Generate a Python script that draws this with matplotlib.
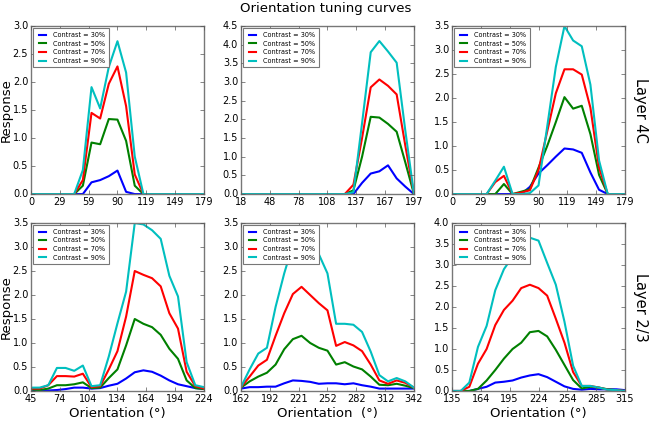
import matplotlib
matplotlib.use('Agg')
import matplotlib.pyplot as plt
import numpy as np

plt.style.use('classic')

contrast_labels = ['Contrast = 30%', 'Contrast = 50%', 'Contrast = 70%', 'Contrast = 90%']
line_colors = ['b', 'g', 'r', 'c']
n_pts = 21

# ---- Layer 4C ----
l4c_a_range = (0, 179)
l4c_a_ticks = ['0', '29', '59', '90', '119', '149', '179']
l4c_a_ymax = 3.0
l4c_a_c30 = [0, 0, 0, 0, 0, 0, 0, 0.21, 0.25, 0.32, 0.42, 0.04, 0, 0, 0, 0, 0, 0, 0, 0, 0]
l4c_a_c50 = [0, 0, 0, 0, 0, 0, 0.15, 0.92, 0.89, 1.34, 1.33, 0.95, 0.15, 0, 0, 0, 0, 0, 0, 0, 0]
l4c_a_c70 = [0, 0, 0, 0, 0, 0, 0.25, 1.45, 1.35, 1.97, 2.28, 1.57, 0.35, 0, 0, 0, 0, 0, 0, 0, 0]
l4c_a_c90 = [0, 0, 0, 0, 0, 0, 0.43, 1.91, 1.53, 2.27, 2.73, 2.17, 0.67, 0, 0, 0, 0, 0, 0, 0, 0]

l4c_b_range = (18, 197)
l4c_b_ticks = ['18', '48', '78', '108', '137', '167', '197']
l4c_b_ymax = 4.5
l4c_b_c30 = [0, 0, 0, 0, 0, 0, 0, 0, 0, 0, 0, 0, 0, 0, 0.3, 0.55, 0.61, 0.77, 0.42, 0.2, 0]
l4c_b_c50 = [0, 0, 0, 0, 0, 0, 0, 0, 0, 0, 0, 0, 0, 0.1, 1.0, 2.07, 2.05, 1.88, 1.67, 0.85, 0]
l4c_b_c70 = [0, 0, 0, 0, 0, 0, 0, 0, 0, 0, 0, 0, 0, 0.25, 1.5, 2.86, 3.07, 2.9, 2.67, 1.3, 0]
l4c_b_c90 = [0, 0, 0, 0, 0, 0, 0, 0, 0, 0, 0, 0, 0, 0.05, 1.9, 3.8, 4.1, 3.82, 3.52, 1.7, 0]

l4c_c_range = (0, 179)
l4c_c_ticks = ['0', '29', '59', '90', '119', '149', '179']
l4c_c_ymax = 3.5
l4c_c_c30 = [0, 0, 0, 0, 0, 0, 0, 0, 0, 0.15, 0.43, 0.6, 0.78, 0.95, 0.93, 0.86, 0.45, 0.09, 0, 0, 0]
l4c_c_c50 = [0, 0, 0, 0, 0, 0, 0.21, 0, 0.05, 0.1, 0.55, 1.0, 1.5, 2.02, 1.78, 1.84, 1.25, 0.4, 0, 0, 0]
l4c_c_c70 = [0, 0, 0, 0, 0, 0.25, 0.38, 0, 0.03, 0.08, 0.5, 1.3, 2.1, 2.6, 2.6, 2.49, 1.8, 0.55, 0, 0, 0]
l4c_c_c90 = [0, 0, 0, 0, 0, 0.28, 0.57, 0, 0, 0.02, 0.18, 1.4, 2.65, 3.5, 3.2, 3.08, 2.28, 0.7, 0, 0, 0]

# ---- Layer 2/3 ----
l23_a_range = (45, 224)
l23_a_ticks = ['45', '74', '104', '134', '164', '194', '224']
l23_a_ymax = 3.5
l23_a_c30 = [0.02, 0.01, 0.01, 0.02, 0.04, 0.07, 0.07, 0.05, 0.06, 0.11, 0.15, 0.26, 0.39, 0.43, 0.4, 0.32, 0.22, 0.14, 0.1, 0.06, 0.04]
l23_a_c50 = [0.03, 0.02, 0.05, 0.12, 0.12, 0.14, 0.18, 0.06, 0.07, 0.27, 0.45, 0.95, 1.5, 1.4, 1.33, 1.17, 0.88, 0.67, 0.22, 0.06, 0.04]
l23_a_c70 = [0.05, 0.05, 0.12, 0.31, 0.31, 0.3, 0.36, 0.08, 0.1, 0.45, 0.83, 1.55, 2.5, 2.42, 2.35, 2.18, 1.62, 1.3, 0.4, 0.1, 0.05]
l23_a_c90 = [0.07, 0.07, 0.12, 0.48, 0.48, 0.42, 0.53, 0.1, 0.12, 0.72, 1.41, 2.07, 3.5, 3.47, 3.35, 3.17, 2.4, 1.97, 0.6, 0.12, 0.08]

l23_b_range = (162, 342)
l23_b_ticks = ['162', '192', '221', '252', '282', '312', '342']
l23_b_ymax = 3.5
l23_b_c30 = [0.05, 0.08, 0.08, 0.09, 0.09, 0.16, 0.22, 0.21, 0.19, 0.15, 0.16, 0.16, 0.14, 0.16, 0.12, 0.09, 0.05, 0.05, 0.05, 0.05, 0.05]
l23_b_c50 = [0.07, 0.2, 0.3, 0.38, 0.55, 0.87, 1.08, 1.15, 1.0, 0.9, 0.84, 0.55, 0.6, 0.51, 0.45, 0.3, 0.13, 0.12, 0.15, 0.11, 0.06]
l23_b_c70 = [0.08, 0.3, 0.53, 0.65, 1.15, 1.62, 2.02, 2.17, 2.0, 1.83, 1.68, 0.94, 1.02, 0.95, 0.83, 0.55, 0.22, 0.15, 0.22, 0.17, 0.07]
l23_b_c90 = [0.08, 0.45, 0.78, 0.9, 1.75, 2.45, 3.05, 3.25, 3.1, 2.85, 2.45, 1.4, 1.4, 1.38, 1.23, 0.82, 0.33, 0.2, 0.27, 0.2, 0.07]

l23_c_range = (135, 315)
l23_c_ticks = ['135', '164', '195', '224', '254', '285', '315']
l23_c_ymax = 4.0
l23_c_c30 = [0, 0, 0, 0.05, 0.1, 0.2, 0.22, 0.25, 0.32, 0.37, 0.4, 0.33, 0.22, 0.11, 0.05, 0.03, 0.05, 0.04, 0.04, 0.04, 0.02]
l23_c_c50 = [0, 0, 0, 0.05, 0.25, 0.5, 0.77, 1.0, 1.15, 1.4, 1.43, 1.3, 0.98, 0.62, 0.26, 0.06, 0.1, 0.08, 0.04, 0.02, 0]
l23_c_c70 = [0, 0, 0.1, 0.65, 1.0, 1.57, 1.93, 2.15, 2.45, 2.53, 2.45, 2.27, 1.72, 1.15, 0.45, 0.12, 0.12, 0.08, 0.03, 0.02, 0]
l23_c_c90 = [0, 0, 0.2, 1.05, 1.55, 2.4, 2.9, 3.2, 3.62, 3.65, 3.58, 3.05, 2.53, 1.65, 0.6, 0.12, 0.12, 0.08, 0.03, 0.02, 0]

panels = [
    (l4c_a_range, l4c_a_ticks, l4c_a_ymax, [l4c_a_c30, l4c_a_c50, l4c_a_c70, l4c_a_c90]),
    (l4c_b_range, l4c_b_ticks, l4c_b_ymax, [l4c_b_c30, l4c_b_c50, l4c_b_c70, l4c_b_c90]),
    (l4c_c_range, l4c_c_ticks, l4c_c_ymax, [l4c_c_c30, l4c_c_c50, l4c_c_c70, l4c_c_c90]),
    (l23_a_range, l23_a_ticks, l23_a_ymax, [l23_a_c30, l23_a_c50, l23_a_c70, l23_a_c90]),
    (l23_b_range, l23_b_ticks, l23_b_ymax, [l23_b_c30, l23_b_c50, l23_b_c70, l23_b_c90]),
    (l23_c_range, l23_c_ticks, l23_c_ymax, [l23_c_c30, l23_c_c50, l23_c_c70, l23_c_c90]),
]

fig = plt.figure(figsize=(6.52, 4.21), dpi=100, facecolor='white')

lefts = [0.0475, 0.3696, 0.6933]
bottoms = [0.539, 0.0713]
w, h = 0.2653, 0.399

for k, (xr, xt, ymax, series) in enumerate(panels):
    row, col = k // 3, k % 3
    ax = fig.add_axes([lefts[col], bottoms[row], w, h])
    x = np.linspace(xr[0], xr[1], n_pts)
    for s, c, lab in zip(series, line_colors, contrast_labels):
        ax.plot(x, s, color=c, lw=1.5, label=lab)
    ax.set_xlim(xr)
    ax.set_ylim(0, ymax)
    ax.set_xticks(np.linspace(xr[0], xr[1], 7))
    ax.set_xticklabels(xt)
    ax.set_yticks(np.arange(0, ymax + 0.01, 0.5))
    ax.tick_params(labelsize=7, length=3, color='#555555', pad=2)
    for sp in ax.spines.values():
        sp.set_color('#777777')
    leg = ax.legend(loc='upper left', fontsize=4.7, handlelength=1.7,
                    borderpad=0.55, labelspacing=0.4, handletextpad=0.8,
                    borderaxespad=0.35)
    leg.get_frame().set_edgecolor('#777777')
    leg.get_frame().set_linewidth(0.8)
    if row == 1:
        xlab = 'Orientation  (°)' if col == 1 else 'Orientation (°)'
        fig.text(lefts[col] + w / 2, 0.019, xlab, ha='center', va='center', fontsize=9.5)

for row in range(2):
    fig.text(0.009, bottoms[row] + h / 2, 'Response', rotation=90, ha='center', va='center', fontsize=9.5)

fig.text(0.5, 0.98, 'Orientation tuning curves', ha='center', va='center', fontsize=9.5)
fig.text(0.982, bottoms[0] + h / 2, 'Layer 4C', rotation=270, ha='center', va='center', fontsize=10.5)
fig.text(0.982, bottoms[1] + h / 2, 'Layer 2/3', rotation=270, ha='center', va='center', fontsize=10.5)

fig.savefig('out.png', dpi=100, facecolor='white')
